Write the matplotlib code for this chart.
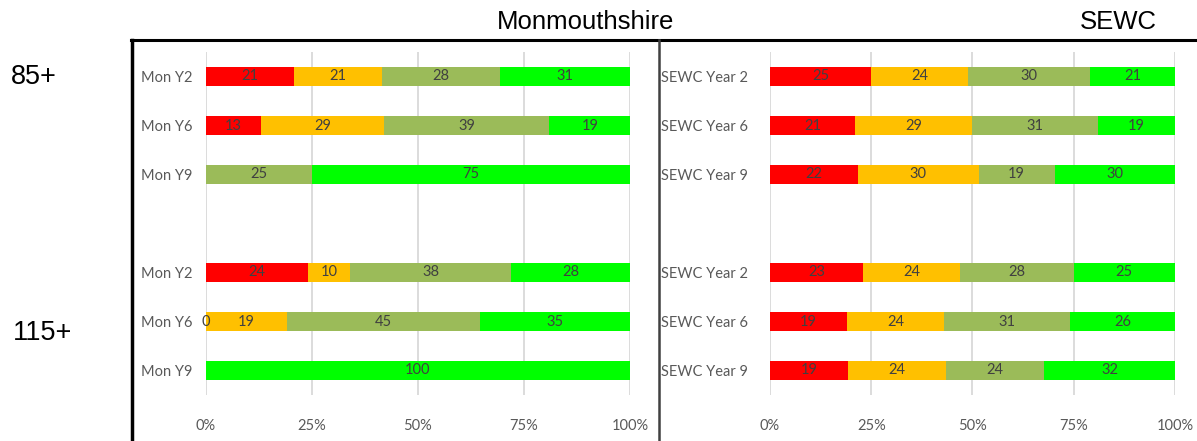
import numpy as np
import matplotlib
matplotlib.use("Agg")
import matplotlib.pyplot as plt
from matplotlib.lines import Line2D

# ---- data ----
mon_labels = ["Mon Y2", "Mon Y6", "Mon Y9", "", "Mon Y2", "Mon Y6", "Mon Y9"]
sewc_labels = ["SEWC Year 2", "SEWC Year 6", "SEWC Year 9", "",
               "SEWC Year 2", "SEWC Year 6", "SEWC Year 9"]
nan = np.nan
# segments: red, amber, olive, green (nan = no segment / no label)
mon_red   = [21, 13, nan, nan, 24, 0, nan]
mon_amber = [21, 29, nan, nan, 10, 19, nan]
mon_olive = [28, 39, 25, nan, 38, 45, nan]
mon_green = [31, 19, 75, nan, 28, 35, 100]

sewc_red   = [25, 21, 22, nan, 23, 19, 19]
sewc_amber = [24, 29, 30, nan, 24, 24, 24]
sewc_olive = [30, 31, 19, nan, 28, 31, 24]
sewc_green = [21, 19, 30, nan, 25, 26, 32]

colors = ["#FF0000", "#FFC000", "#9BBB59", "#00FF00"]
xticks = [0, 0.25, 0.5, 0.75, 1.0]
xticklabels = ["0%", "25%", "50%", "75%", "100%"]

W, H = 1197, 441
fig = plt.figure(figsize=(W / 100, H / 100), dpi=100)

FONT = ["Lato", "DejaVu Sans"]
TXT = "#404040"
LBL = "#595959"


def draw(ax, labels, series, ypad):
    data = np.array(series, dtype=float)  # shape (4, n)
    n = data.shape[1]
    ypos = np.arange(n)
    totals = np.nansum(data, axis=0)
    totals[totals == 0] = 1
    left = np.zeros(n)
    for k in range(4):
        vals = data[k]
        frac = np.where(np.isnan(vals), 0, vals) / totals
        mask = ~np.isnan(vals)
        ax.barh(ypos[mask], frac[mask], left=left[mask], height=0.4,
                color=colors[k], edgecolor="none", zorder=3)
        for i in range(n):
            if mask[i]:
                ax.text(left[i] + frac[i] / 2, ypos[i], f"{int(vals[i])}",
                        ha="center", va="center", fontsize=10.5,
                        color=TXT, family=FONT, zorder=4)
        left = left + frac
    ax.set_xlim(0, 1)
    ax.set_ylim(n - 0.5, -0.5)
    ax.set_yticks(ypos)
    ax.set_yticklabels(labels)
    ax.set_xticks(xticks)
    ax.set_xticklabels(xticklabels)
    ax.grid(axis="x", color="#D9D9D9", linewidth=1.3, zorder=0)
    ax.set_axisbelow(True)
    for s in ax.spines.values():
        s.set_visible(False)
    ax.tick_params(axis="both", length=0, colors=LBL, labelsize=10.5)
    ax.tick_params(axis="y", pad=ypad)
    ax.tick_params(axis="x", pad=17)
    for t in ax.get_xticklabels() + ax.get_yticklabels():
        t.set_family(FONT)


ytop, ybot = 52, 395
axL = fig.add_axes([206 / W, 1 - ybot / H, (630 - 206) / W, (ybot - ytop) / H])
axR = fig.add_axes([770 / W, 1 - ybot / H, (1175 - 770) / W, (ybot - ytop) / H])

draw(axL, mon_labels, [mon_red, mon_amber, mon_olive, mon_green], 10)
draw(axR, sewc_labels, [sewc_red, sewc_amber, sewc_olive, sewc_green], 16)

# frame lines
fig.add_artist(Line2D([131 / W, 1.0], [1 - 39.5 / H] * 2, color="black",
                      linewidth=2.2, transform=fig.transFigure))
fig.add_artist(Line2D([132 / W] * 2, [0, 1 - 39.5 / H], color="black",
                      linewidth=2.5, transform=fig.transFigure))
fig.add_artist(Line2D([659 / W] * 2, [0, 1 - 39.5 / H], color="#404040",
                      linewidth=1.8, transform=fig.transFigure))

# titles and group labels
AR = ["Liberation Sans", "DejaVu Sans"]
fig.text(586 / W, 1 - 22 / H, "Monmouthshire", ha="center", va="center",
         fontsize=18.5, family=AR, color="black")
fig.text(1118 / W, 1 - 22 / H, "SEWC", ha="center", va="center",
         fontsize=18.5, family=AR, color="black")
fig.text(34 / W, 1 - 77 / H, "85+", ha="center", va="center",
         fontsize=19.5, family=AR, color="black")
fig.text(43 / W, 1 - 333 / H, "115+", ha="center", va="center",
         fontsize=19.5, family=AR, color="black")

fig.savefig("out.png", dpi=100, facecolor="white")
